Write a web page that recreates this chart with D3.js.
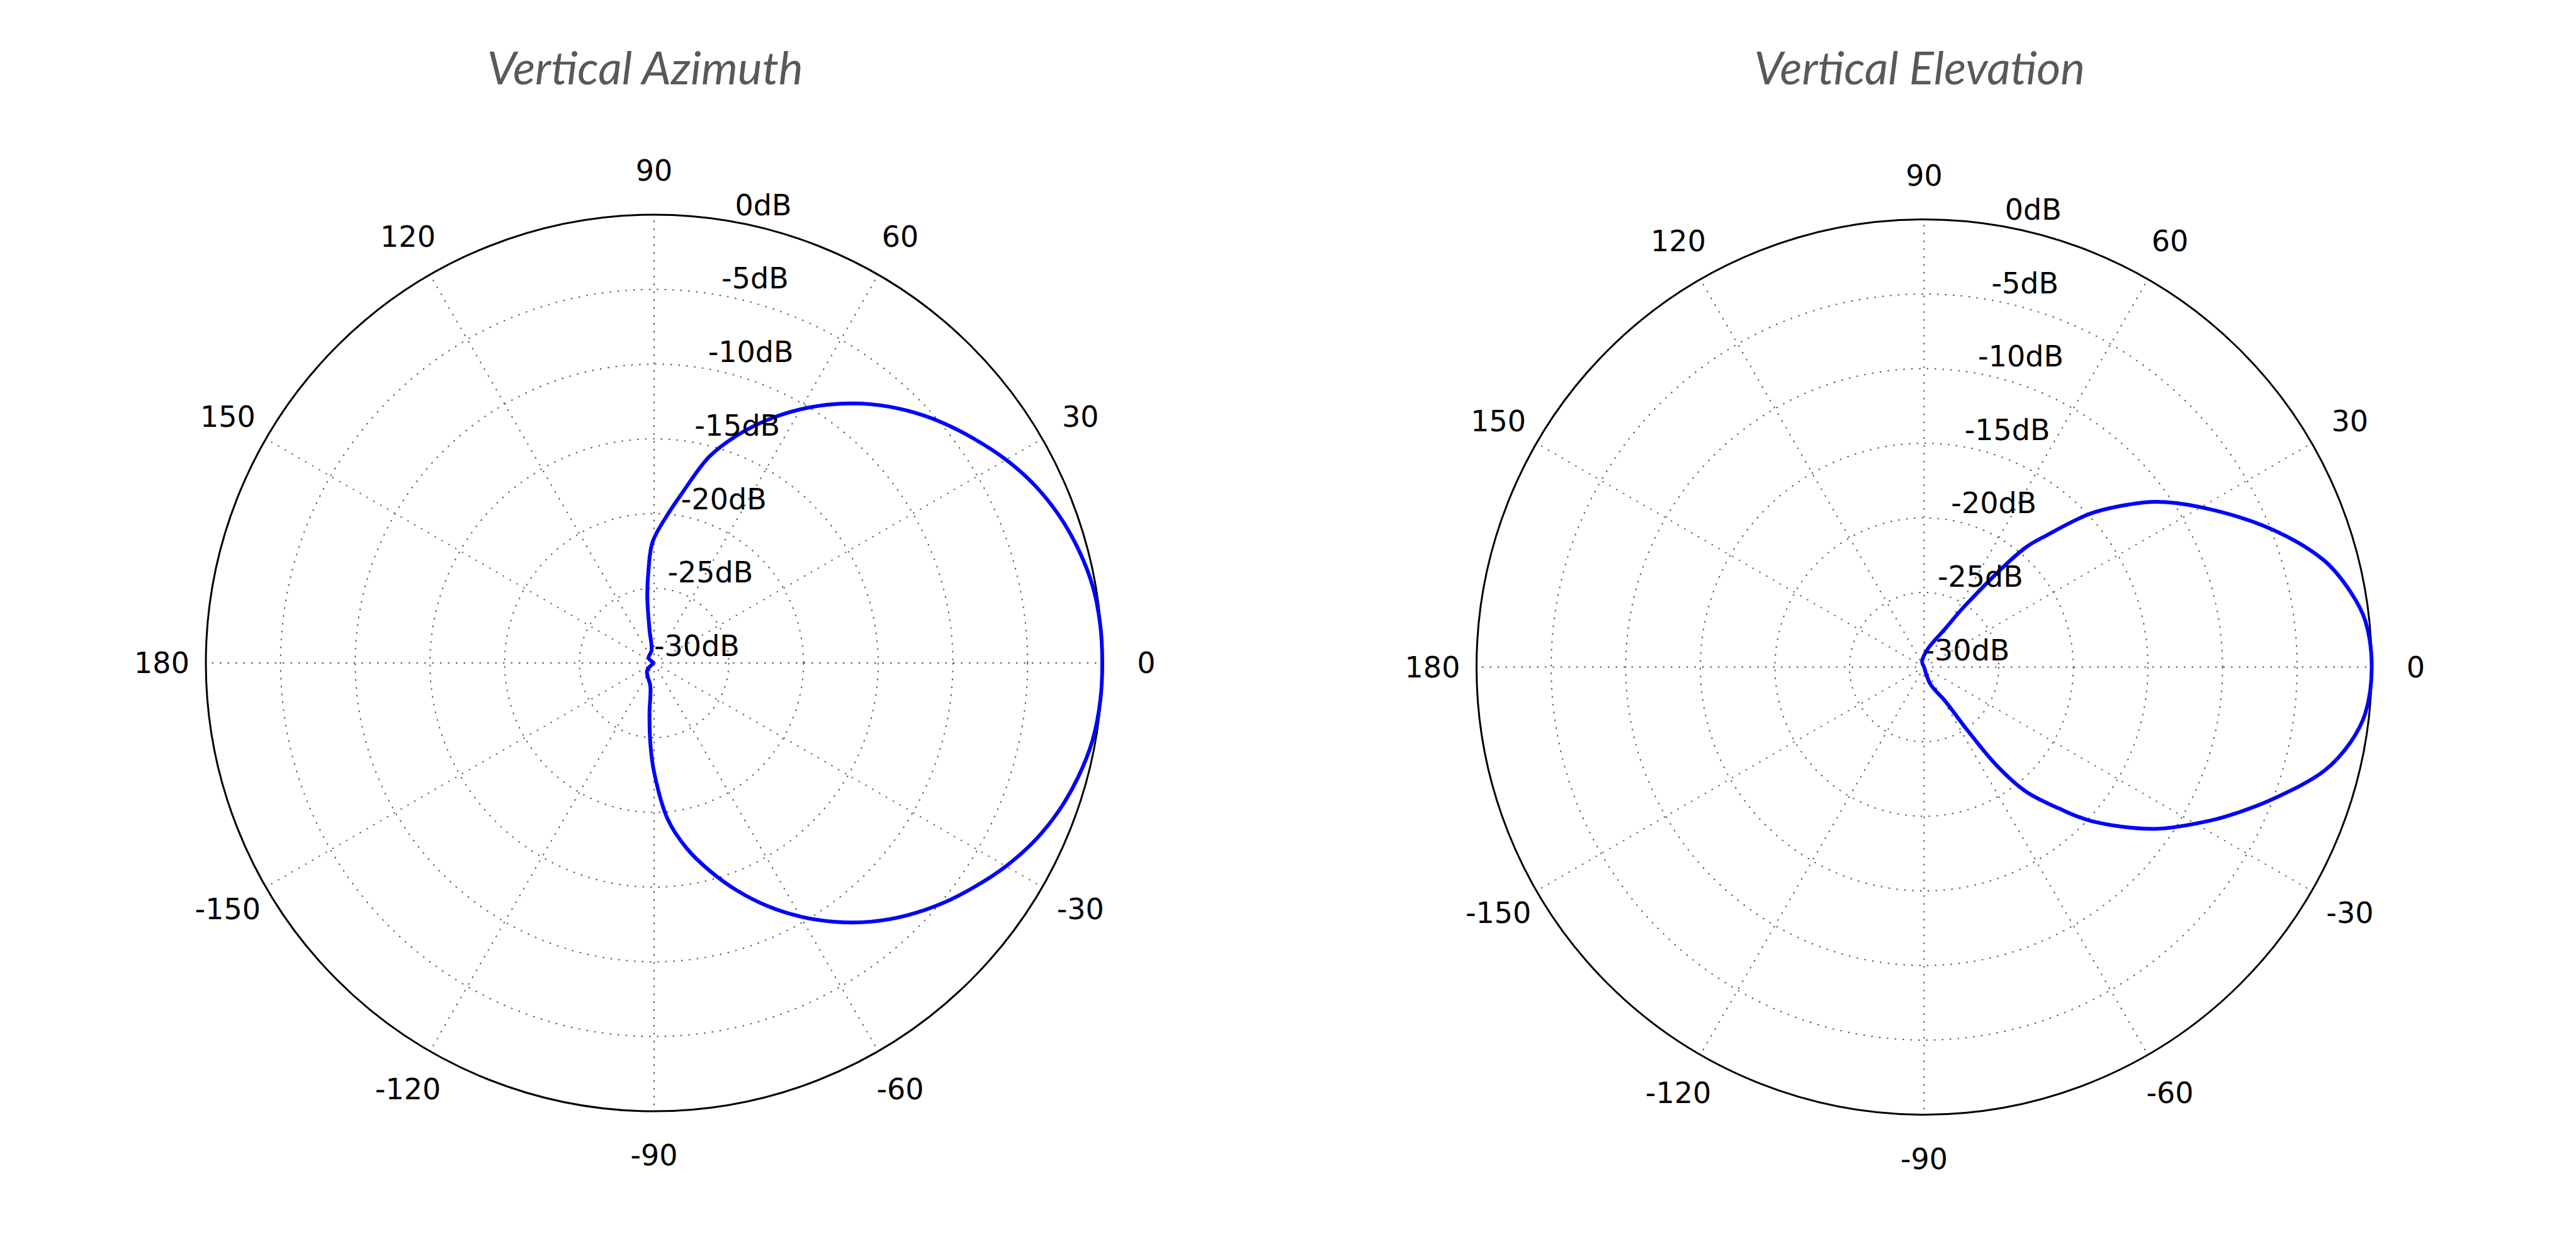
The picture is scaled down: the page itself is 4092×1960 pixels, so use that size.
<!DOCTYPE html>
<html><head><meta charset="utf-8">
<script src="https://cdn.jsdelivr.net/npm/d3@7"></script>
<style>html,body{margin:0;padding:0;background:#fff;} svg{display:block;background:#fff}</style>
</head><body>
<svg id="chart" width="4092" height="1960"></svg>
<script>
// ---- data ----
const titles = ["Vertical Azimuth", "Vertical Elevation"];
const angleTicks = [0, 30, 60, 90, 120, 150, 180, -150, -120, -90, -60, -30];
const angleTickLabels = ["0", "30", "60", "90", "120", "150", "180", "-150", "-120", "-90", "-60", "-30"];
const radialTicks = [-30, -25, -20, -15, -10, -5, 0];
const radialTickLabels = ["-30dB", "-25dB", "-20dB", "-15dB", "-10dB", "-5dB", "0dB"];
const spokeAngles = [0, 30, 60, 90, 120, 150, 180, 210, 240, 270, 300, 330];

// Vertical Azimuth: angle (deg) and level (dB), in drawing order
const azimuthAngles = [-180, -132, -98.8, -95.2, -92.5, -90, -85, -80, -75, -70, -65, -60, -55, -50, -45, -40, -35, -30, -25, -20, -15, -10, -5, 0, 5, 10, 15, 20, 25, 30, 35, 40, 45, 50, 55, 60, 65, 70, 75, 80.8, 85, 90.7, 93.8, 95.9, 97.8, 101.5, 137, 180];
const azimuthValues = [-30, -29.3, -28.4, -26.6, -24.5, -22.7, -19.5, -17.4, -15.6, -13.8, -12.05, -10.4, -8.85, -7.4, -6.1, -4.92, -3.85, -2.8, -1.88, -1.15, -0.6, -0.2, -0.03, 0, -0.03, -0.2, -0.6, -1.15, -1.88, -2.8, -3.85, -4.92, -6.1, -7.4, -8.85, -10.4, -12.05, -13.8, -15.7, -18.55, -20.1, -21.9, -24.05, -25.6, -27.7, -29.15, -29.5, -30];

// Vertical Elevation: angle (deg) and level (dB), in drawing order
const elevationAngles = [-180, -70, -58.2, -55.7, -53.6, -50.7, -46.4, -42.7, -35, -27.9, -25.2, -20.7, -14.55, -10, -6, 0, 6, 10, 14.9, 21.7, 30.1, 35.6, 39.4, 42.8, 47, 49.8, 56.1, 61.2, 79.4, 110, 180];
const elevationValues = [-30, -28.8, -27.3, -25.0, -21.79, -19.2, -16.93, -14.8, -11.1, -8.1, -6.95, -5.0, -2.30, -0.98, -0.27, 0, -0.27, -0.98, -2.25, -4.97, -8.62, -10.97, -13.0, -14.9, -17.9, -19.6, -24.94, -27.06, -28.8, -29.6, -30];

// ---- layout ----
const svg = d3.select("#chart");
svg.append("rect").attr("width", 4092).attr("height", 1960).attr("fill", "#fff");

const panels = [
  {cx: 1039, cy: 1053, R: 712, title: titles[0], tx: -265.3, tw: 502, angles: azimuthAngles, values: azimuthValues},
  {cx: 3056.5, cy: 1059.5, R: 711, title: titles[1], tx: -270, tw: 525.5, angles: elevationAngles, values: elevationValues}
];

const toRad = d => (90 - d) * Math.PI / 180;

panels.forEach(p => {
  const g = svg.append("g").attr("transform", `translate(${p.cx},${p.cy})`);
  const r = d3.scaleLinear().domain([-30, 0]).range([0, p.R]);

  // title
  svg.append("text")
    .attr("x", p.cx + p.tx).attr("y", 134)
    .attr("text-anchor", "start")
    .attr("font-family", "Lato, 'Open Sans', sans-serif")
    .attr("font-style", "italic")
    .attr("font-size", 71)
    .attr("fill", "#58595b")
    .attr("textLength", p.tw)
    .attr("lengthAdjust", "spacingAndGlyphs")
    .text(p.title);

  // rings (dotted)
  g.selectAll("circle.ring").data(radialTicks.filter(v => v > -30 && v < 0)).join("circle")
    .attr("class", "ring")
    .attr("r", d => r(d))
    .attr("fill", "none")
    .attr("stroke", "#555")
    .attr("stroke-width", 2)
    .attr("stroke-dasharray", "2.5,10");

  // spokes (dotted)
  g.selectAll("line.spoke").data(spokeAngles).join("line")
    .attr("class", "spoke")
    .attr("x1", 0).attr("y1", 0)
    .attr("x2", d => r(0) * Math.cos(d * Math.PI / 180))
    .attr("y2", d => -r(0) * Math.sin(d * Math.PI / 180))
    .attr("stroke", "#555")
    .attr("stroke-width", 2)
    .attr("stroke-dasharray", "2.5,10");

  // outer frame
  g.append("circle").attr("r", r(0)).attr("fill", "none")
    .attr("stroke", "#000").attr("stroke-width", 3);

  // pattern line
  const pts = p.angles.map((a, i) => [a, p.values[i]]);
  const line = d3.lineRadial()
    .angle(d => toRad(d[0]))
    .radius(d => r(d[1]))
    .curve(d3.curveCatmullRom.alpha(0.5));
  g.append("path").attr("d", line(pts))
    .attr("fill", "none").attr("stroke", "#0000ff")
    .attr("stroke-width", 6).attr("stroke-linejoin", "round");

  // angle tick labels
  g.selectAll("text.ang").data(angleTicks).join("text")
    .attr("class", "ang")
    .attr("x", d => (p.R + 70) * Math.cos(d * Math.PI / 180))
    .attr("y", d => -(p.R + 70) * Math.sin(d * Math.PI / 180))
    .attr("text-anchor", "middle")
    .attr("dominant-baseline", "central")
    .attr("font-family", "'DejaVu Sans', sans-serif")
    .attr("font-size", 46)
    .attr("fill", "#000")
    .text((d, i) => angleTickLabels[i]);

  // radial tick labels
  const la = 79.6 * Math.PI / 180;
  g.selectAll("text.rad").data(radialTicks).join("text")
    .attr("class", "rad")
    .attr("x", d => r(d) * Math.cos(la))
    .attr("y", d => -r(d) * Math.sin(la) - 11)
    .attr("text-anchor", "start")
    .attr("font-family", "'DejaVu Sans', sans-serif")
    .attr("font-size", 46)
    .attr("fill", "#000")
    .text((d, i) => radialTickLabels[i]);
});
</script>
</body></html>
